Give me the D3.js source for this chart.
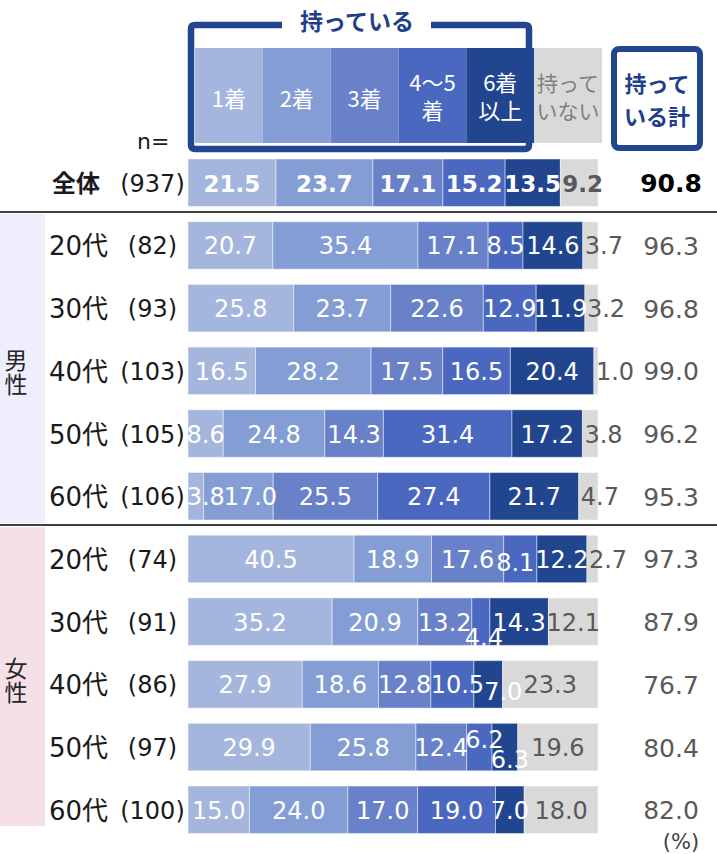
<!DOCTYPE html>
<html><head><meta charset="utf-8">
<script src="https://cdn.jsdelivr.net/npm/d3@7"></script>
<style>
html,body{margin:0;padding:0;background:#fff;}
svg{display:block;}
</style></head>
<body>
<svg id="c" width="717" height="854"></svg>
<script>
// ---------- data ----------
const rowLabels = ["全体","20代","30代","40代","50代","60代","20代","30代","40代","50代","60代"];
const nValues   = [937,82,93,103,105,106,74,91,86,97,100];
const seriesNames = ["1着","2着","3着","4～5着","6着以上","持っていない"];
const s1 = [21.5,20.7,25.8,16.5, 8.6, 3.8,40.5,35.2,27.9,29.9,15.0];
const s2 = [23.7,35.4,23.7,28.2,24.8,17.0,18.9,20.9,18.6,25.8,24.0];
const s3 = [17.1,17.1,22.6,17.5,14.3,25.5,17.6,13.2,12.8,12.4,17.0];
const s4 = [15.2, 8.5,12.9,16.5,31.4,27.4, 8.1, 4.4,10.5, 6.2,19.0];
const s5 = [13.5,14.6,11.9,20.4,17.2,21.7,12.2,14.3, 7.0, 6.3, 7.0];
const s6 = [ 9.2, 3.7, 3.2, 1.0, 3.8, 4.7, 2.7,12.1,23.3,19.6,18.0];
const totals = [90.8,96.3,96.8,99.0,96.2,95.3,97.3,87.9,76.7,80.4,82.0];
const genderGroups = [{name:"男性", from:1, to:5},{name:"女性", from:6, to:10}];

// ---------- styles ----------
const colors = ["#A4B6DE","#849ED5","#6881C8","#4A68C0","#21468F","#D9D9D9"];
const darkBlue = "#21468F";
const titleBlue = "#1F3F8A";
const numFont = "'DejaVu Sans','Noto Sans CJK JP',sans-serif";
const jpFont = "'Noto Sans CJK JP','DejaVu Sans',sans-serif";

const svg = d3.select("#c");

// ---------- scales ----------
const rows = d3.range(rowLabels.length);
const y = d3.scaleBand().domain(rows).range([159, 833.5]).paddingInner(0.243).paddingOuter(0);
const x = d3.scaleLinear().domain([0, 1]).range([188, 598]);

const table = rows.map(i => ({row:i, a:s1[i], b:s2[i], c:s3[i], d:s4[i], e:s5[i], f:s6[i]}));
const keys = ["a","b","c","d","e","f"];
const vals = [s1,s2,s3,s4,s5,s6];
const stacked = d3.stack().keys(keys).offset(d3.stackOffsetExpand)(table);

// ---------- gender bands ----------
const bandColors = {"男性":"#EEEEFC","女性":"#F6E0E7"};
genderGroups.forEach(g => {
  const top = g.from === 1 ? 214 : 527;
  const bottom = g.to === 5 ? 523 : 826;
  svg.append("rect").attr("x",0).attr("y",top).attr("width",45).attr("height",bottom-top)
     .attr("fill", bandColors[g.name]);
  const cy = (top + bottom)/2 + 4;
  svg.append("text").attr("x",16).attr("y", cy)
    .attr("text-anchor","middle")
    .attr("writing-mode","vertical-rl")
    .style("writing-mode","vertical-rl")
    .attr("letter-spacing",1)
    .attr("font-family",jpFont).attr("font-size",23).attr("fill","#262626").text(g.name);
});

// separator lines
[212, 525].forEach(yy => {
  svg.append("line").attr("x1",0).attr("x2",717).attr("y1",yy).attr("y2",yy)
    .attr("stroke","#404040").attr("stroke-width",2);
});

// ---------- bars ----------
const segG = svg.append("g");
stacked.forEach((layer, si) => {
  segG.selectAll(null).data(layer).enter().append("rect")
    .attr("x", d => x(d[0]))
    .attr("y", d => y(d.data.row))
    .attr("width", d => x(d[1]) - x(d[0]))
    .attr("height", y.bandwidth())
    .attr("fill", colors[si])
    .attr("stroke", "#ffffff").attr("stroke-opacity",0.45).attr("stroke-width",1);
});

// label nudges (manual placements in the original)
const labelNudges = {"5-0":[10,0],"5-1":[12,0],"6-3":[-5,3],"7-3":[3,15],"8-3":[5,0],"8-4":[15,7],"9-3":[5,-8],"9-4":[5,12]};
stacked.forEach((layer, si) => {
  layer.forEach(d => {
    const i = d.data.row;
    const v = vals[si][i];
    const x0 = x(d[0]), x1 = x(d[1]);
    const nud = labelNudges[i+"-"+si] || [0,0];
    const bold = i === 0;
    const t = svg.append("text")
      .attr("y", y(i) + y.bandwidth()/2 + 1 + nud[1])
      .attr("dominant-baseline","central")
      .attr("font-family", numFont)
      .attr("font-size", bold ? 23 : 24)
      .attr("font-weight", bold ? "bold" : "normal")
      .attr("fill", si === 5 ? "#595959" : "#ffffff")
      .text(v.toFixed(1));
    if (si === 5 && (x1 - x0) < 40) {
      t.attr("x", x0 + 2).attr("text-anchor","start");
    } else {
      t.attr("x", (x0 + x1)/2 + nud[0]).attr("text-anchor","middle");
    }
  });
});

// ---------- row labels ----------
rows.forEach(i => {
  const cy = y(i) + y.bandwidth()/2 + 1;
  svg.append("text").attr("x", i===0 ? 52 : 49).attr("y", cy).attr("dominant-baseline","central")
    .attr("font-family", numFont).attr("font-size", i===0 ? 24 : 26)
    .attr("font-weight", i===0 ? "bold" : "normal").attr("fill","#1a1a1a")
    .text(rowLabels[i]);
  svg.append("text").attr("x",152.5).attr("y",cy).attr("dominant-baseline","central")
    .attr("text-anchor","middle").attr("font-family",numFont).attr("font-size",24)
    .attr("fill","#1a1a1a").text("(" + nValues[i] + ")");
  svg.append("text").attr("x",671).attr("y",cy).attr("dominant-baseline","central")
    .attr("text-anchor","middle").attr("font-family",numFont)
    .attr("font-size",25).attr("font-weight", i===0 ? "bold" : "normal")
    .attr("fill", i===0 ? "#000000" : "#595959").text(totals[i].toFixed(1));
});

// ---------- header ----------
const hx = d3.scaleBand().domain(seriesNames).range([195, 602]);
const headerLines = {"1着":["1着"],"2着":["2着"],"3着":["3着"],"4～5着":["4～5","着"],"6着以上":["6着","以上"],"持っていない":["持って","いない"]};
seriesNames.forEach((s, si) => {
  svg.append("rect").attr("x",hx(s)).attr("y",48).attr("width",hx.bandwidth()).attr("height",95)
    .attr("fill",colors[si]);
  const lines = headerLines[s];
  const cx = hx(s) + hx.bandwidth()/2;
  const t = svg.append("text").attr("text-anchor","middle")
    .attr("font-family", jpFont).attr("font-size", si===5 ? 21 : 22)
    .attr("fill", si===5 ? "#7F7F7F" : "#ffffff");
  if (lines.length === 1) {
    t.attr("x", cx).attr("y", 97).attr("dominant-baseline","central").text(lines[0]);
  } else {
    t.attr("x", cx).attr("y", 91);
    lines.forEach((ln, k) => {
      t.append("tspan").attr("x", cx).attr("dy", k === 0 ? 0 : 28).text(ln);
    });
  }
});

// bracket around "持っている"
const r = 4, L = 191, R = 529, T = 25, B = 149;
const br = d3.path();
br.moveTo(282, T);
br.lineTo(L + r, T); br.quadraticCurveTo(L, T, L, T + r);
br.lineTo(L, B - r); br.quadraticCurveTo(L, B, L + r, B);
br.lineTo(R - r, B); br.quadraticCurveTo(R, B, R, B - r);
br.lineTo(R, T + r); br.quadraticCurveTo(R, T, R - r, T);
br.lineTo(431, T);
svg.append("path").attr("d", br.toString()).attr("fill","none")
  .attr("stroke", darkBlue).attr("stroke-width",6.5);
svg.append("text").attr("x",357).attr("y",20).attr("text-anchor","middle").attr("dominant-baseline","central")
  .attr("font-family",jpFont).attr("font-size",23).attr("font-weight","bold").attr("fill",titleBlue)
  .text("持っている");

// total box
svg.append("rect").attr("x",614).attr("y",49).attr("width",86).attr("height",99).attr("rx",5)
  .attr("fill","#ffffff").attr("stroke",darkBlue).attr("stroke-width",6);
const tb = svg.append("text").attr("x",657).attr("y",92).attr("text-anchor","middle")
  .attr("font-family",jpFont).attr("font-size",22).attr("font-weight","bold").attr("fill",titleBlue);
["持って","いる計"].forEach((t, k) => {
  tb.append("tspan").attr("x",657).attr("dy", k === 0 ? 0 : 33).text(t);
});

// n=
svg.append("text").attr("x",137).attr("y",141).attr("dominant-baseline","central")
  .attr("font-family",numFont).attr("font-size",22).attr("fill","#1a1a1a").text("n=");

// (%)
svg.append("text").attr("x",681).attr("y",842).attr("text-anchor","middle").attr("dominant-baseline","central")
  .attr("font-family",numFont).attr("font-size",21).attr("fill","#404040").text("(%)");
</script>
</body></html>
